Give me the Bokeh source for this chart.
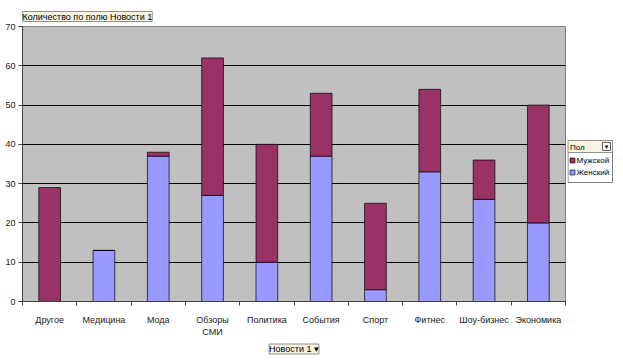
from bokeh.plotting import figure
from bokeh.layouts import row
from bokeh.core.properties import value
from bokeh.models import ColumnDataSource, FixedTicker, Range1d, Title
from bokeh.embed import file_html
from bokeh.resources import INLINE

categories = ["Другое", "Медицина", "Мода", "Обзоры СМИ", "Политика", "События",
              "Спорт", "Фитнес", "Шоу-бизнес", "Экономика"]
tick_labels = ["Другое", "Медицина", "Мода", "Обзоры\nСМИ", "Политика", "События",
               "Спорт", "Фитнес", "Шоу-бизнес", "Экономика"]
female = [0, 13, 37, 27, 10, 37, 3, 33, 26, 20]
male = [29, 0, 1, 35, 30, 16, 22, 21, 10, 30]
y_ticks = [0, 10, 20, 30, 40, 50, 60, 70]
series_names = ["Женский", "Мужской"]
series_colors = ["#9999FF", "#993366"]
title_text = "Количество по полю Новости 1"
field_text = "Новости 1 ▾"
legend_title = "Пол"

FONT = "Liberation Sans"
BEIGE = "#F8F4E0"
FH = 275
x = list(range(len(categories)))
source = ColumnDataSource(dict(x=x, female=female, male=male))

p = figure(frame_width=543, frame_height=FH,
           x_range=Range1d(-0.5, len(categories) - 0.5), y_range=Range1d(0, 70),
           output_backend="svg", toolbar_location=None,
           min_border_left=22, min_border_right=2, min_border_top=26, min_border_bottom=0,
           background_fill_color="#C0C0C0", border_fill_color="white")
p.outline_line_color = "#808080"

rs = p.vbar_stack(["female", "male"], x="x", width=0.4, source=source,
                  fill_color=series_colors, line_color="black", line_width=0.7)

p.xgrid.visible = False
p.ygrid.ticker = FixedTicker(ticks=y_ticks)
p.ygrid.grid_line_color = "black"
p.ygrid.grid_line_width = 1

ya = p.yaxis[0]
ya.ticker = FixedTicker(ticks=y_ticks)
ya.major_tick_out = 4
ya.major_tick_in = 0
ya.minor_tick_out = 0
ya.axis_line_color = "#404040"
ya.major_tick_line_color = "#404040"
ya.major_label_text_font = FONT
ya.major_label_text_font_size = "9px"
ya.major_label_text_color = "#202020"
ya.major_label_standoff = 3

xa = p.xaxis[0]
xa.ticker = FixedTicker(ticks=x, minor_ticks=[i + 0.5 for i in range(-1, len(categories))])
xa.major_tick_out = 0
xa.major_tick_in = 0
xa.minor_tick_out = 4
xa.minor_tick_in = 0
xa.axis_line_color = "#404040"
xa.minor_tick_line_color = "#404040"
xa.major_label_overrides = {i: t for i, t in enumerate(tick_labels)}
xa.major_label_text_font = FONT
xa.major_label_text_font_size = "9px"
xa.major_label_text_color = "#202020"
xa.major_label_standoff = 9

t = Title(text=title_text, align="left", text_font=FONT, text_font_size="9px",
          text_font_style="normal", text_color="black",
          background_fill_color=BEIGE, border_line_color="#909090", standoff=10)
p.add_layout(t, "above")

f = Title(text=field_text, align="center", text_font=FONT, text_font_size="9px",
          text_font_style="normal", text_color="black",
          background_fill_color=BEIGE, border_line_color="#909090", standoff=5)
p.add_layout(f, "below")

# legend panel drawn in a narrow companion figure (pixel-like units, y downward)
lg = figure(frame_width=46, frame_height=FH, x_range=Range1d(0, 46), y_range=Range1d(FH, 0),
            x_axis_type=None, y_axis_type=None, output_backend="svg", toolbar_location=None,
            min_border_left=0, min_border_right=0, min_border_top=26, min_border_bottom=0,
            background_fill_color="white", border_fill_color="white")
lg.outline_line_color = None
lg.grid.visible = False
top, hh, bot = 114, 12, 156
lg.quad(left=[0.5], right=[45], top=[top], bottom=[bot], fill_color="white", line_color="#808080")
lg.quad(left=[0.5], right=[45], top=[top], bottom=[top + hh], fill_color=BEIGE, line_color="#909090")
lg.quad(left=[35], right=[43], top=[top + 2], bottom=[top + 10], fill_color="white", line_color="#606060")
lg.text(x=[39], y=[top + 6], text=["▾"], text_align="center", text_baseline="middle",
        text_font=value("DejaVu Sans"), text_font_size="7px", text_color="black")
lg.text(x=[2.5], y=[top + 6.5], text=[legend_title], text_baseline="middle",
        text_font=value(FONT), text_font_size="8px", text_color="black")
leg_names = [series_names[1], series_names[0]]
leg_colors = [series_colors[1], series_colors[0]]
leg_y = [top + 20, top + 32]
lg.rect(x=[5, 5], y=leg_y, width=5, height=5, fill_color=leg_colors, line_color="black", line_width=0.6)
lg.text(x=[9, 9], y=leg_y, text=leg_names, text_baseline="middle",
        text_font=value(FONT), text_font_size="8px", text_color="black")

layout = row(p, lg)
open("out.html", "w").write(file_html(layout, INLINE))
